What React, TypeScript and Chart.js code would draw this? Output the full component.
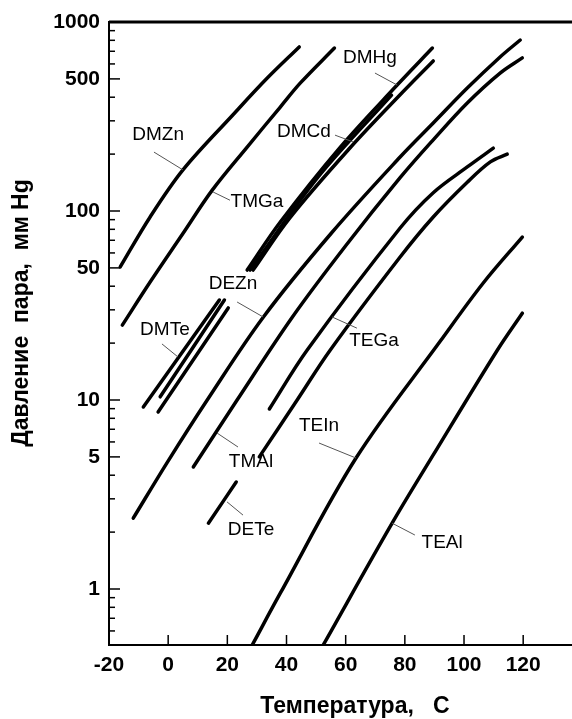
import React, { useEffect, useRef } from 'react';
import { Chart, registerables } from 'chart.js';

Chart.register(...registerables);

// Axis ticks
const xTicks = [-20, 0, 20, 40, 60, 80, 100, 120];
const yTicks = [1, 5, 10, 50, 100, 500, 1000];

// Temperature (C) / vapour pressure (mm Hg) for each compound
const dmznT = [-16.2, -6.1, 5.0, 22.0, 33.5, 44.3];
const dmznP = [50.6, 93, 165, 324, 505, 738];

const tmgaT = [-15.5, -6.1, 5.1, 14.9, 26.7, 37.9, 44.7, 56.2];
const tmgaP = [24.9, 42.1, 76.5, 129, 218, 355, 476, 728];

const dmhgT = [26.7, 37.9, 58.2, 77.4, 89.3];
const dmhgP = [48.7, 87.5, 218, 464, 728];

const dmhg2T = [28.7, 41.2, 61.5, 78.4, 89.6];
const dmhg2P = [48.7, 92.3, 216, 412, 622];

const dmcdT = [27.7, 50.5, 75.5];
const dmcdP = [48.7, 150, 410];

const dmte1T = [-8.4, 17.3];
const dmte1P = [9.18, 33.8];
const dmte2T = [-2.7, 19.0];
const dmte2P = [10.4, 33.8];
const dmte3T = [-3.4, 20.3];
const dmte3P = [8.64, 30.7];

const deznT = [-11.8, -0.3, 13.2, 32.2, 55.2, 78.4, 89.6, 101.1, 112.2, 119.0];
const deznP = [2.37, 4.68, 10.0, 27.5, 76.5, 193, 292, 447, 653, 803];

const tmalT = [8.5, 23.3, 42.0, 60.2, 78.4, 89.6, 101.1, 112.2, 119.7];
const tmalP = [4.42, 10.0, 27.5, 66.1, 150, 238, 373, 537, 646];

const deteT = [13.6, 23.0];
const deteP = [2.23, 3.68];

const tegaT = [34.2, 47.0, 78.4, 89.6, 101.1, 109.9];
const tegaP = [8.96, 18.4, 81.3, 125, 171, 215];

const teb2T = [30.8, 43.6, 54.8, 78.4, 89.6, 101.1, 108.9, 114.6];
const teb2P = [5.0, 10.0, 18.4, 57.1, 93, 142, 182, 200];

const teinT = [28.4, 37.9, 63.5, 92.0, 106.5, 119.7];
const teinP = [0.505, 0.95, 4.93, 20.5, 41.6, 72.8];

const tealT = [52.4, 75.7, 89.6, 111.3, 119.7];
const tealP = [0.505, 2.23, 5.12, 18.4, 28.8];

const series = [
  { name: 'DMZn', t: dmznT, p: dmznP },
  { name: 'TMGa', t: tmgaT, p: tmgaP },
  { name: 'DMHg', t: dmhgT, p: dmhgP },
  { name: 'DMHg-2', t: dmhg2T, p: dmhg2P },
  { name: 'DMCd', t: dmcdT, p: dmcdP },
  { name: 'DMTe-1', t: dmte1T, p: dmte1P },
  { name: 'DMTe-2', t: dmte2T, p: dmte2P },
  { name: 'DMTe-3', t: dmte3T, p: dmte3P },
  { name: 'DEZn', t: deznT, p: deznP },
  { name: 'TMAl', t: tmalT, p: tmalP },
  { name: 'DETe', t: deteT, p: deteP },
  { name: 'TEGa', t: tegaT, p: tegaP },
  { name: 'TE-2', t: teb2T, p: teb2P },
  { name: 'TEIn', t: teinT, p: teinP },
  { name: 'TEAl', t: tealT, p: tealP },
];

// Curve labels: text anchor and leader line (data coordinates)
const labelNames = ['DMZn', 'TMGa', 'DMHg', 'DMCd', 'DEZn', 'DMTe', 'TEGa', 'TMAl', 'DETe', 'TEIn', 'TEAl'];
const labelAt = [
  [-3.4, 252], [30.0, 112], [68.2, 645], [45.9, 262], [21.9, 41.1], [-1.1, 23.5],
  [69.6, 20.5], [28.0, 4.70], [28.0, 2.05], [51.0, 7.28], [92.6, 1.75],
];
const leaderFrom = [
  [-4.8, 205], [15.2, 126], [69.9, 537], [56.4, 252], [23.3, 33.0], [-2.1, 19.8],
  [55.4, 27.5], [16.5, 6.69], [19.9, 2.89], [51.0, 5.92], [75.7, 2.23],
];
const leaderTo = [
  [5.0, 165], [20.9, 114], [77.4, 464], [62.5, 232], [32.1, 27.5], [3.3, 16.9],
  [63.8, 24.0], [23.6, 5.64], [25.3, 2.46], [63.5, 4.93], [83.4, 1.93],
];

const FONT = '"Liberation Sans", Arial, sans-serif';

const decor = {
  id: 'decor',
  afterDraw(chart: any) {
    const { ctx, chartArea: a, scales } = chart;
    const xs = scales.x;
    const ys = scales.y;
    ctx.save();
    ctx.strokeStyle = '#000';
    // top frame line
    ctx.lineWidth = 3;
    ctx.beginPath();
    ctx.moveTo(a.left, a.top);
    ctx.lineTo(a.right, a.top);
    ctx.stroke();
    // y ticks (inward, log minor)
    ctx.lineWidth = 1.5;
    for (let d = -1; d <= 3; d++) {
      for (let m = 1; m <= 9; m++) {
        const v = m * Math.pow(10, d);
        if (v < ys.min || v > ys.max * 1.0001) continue;
        const py = ys.getPixelForValue(v);
        const major = yTicks.some((t) => Math.abs(t - v) < 1e-6 * t);
        const len = major ? 11 : 6;
        ctx.beginPath();
        ctx.moveTo(a.left, py);
        ctx.lineTo(a.left + len, py);
        ctx.stroke();
      }
    }
    // x ticks (inward)
    xTicks.forEach((t) => {
      if (t === xs.min) return;
      const px = xs.getPixelForValue(t);
      ctx.beginPath();
      ctx.moveTo(px, a.bottom);
      ctx.lineTo(px, a.bottom - 10);
      ctx.stroke();
    });
    // leaders
    ctx.strokeStyle = '#555';
    ctx.lineWidth = 1;
    labelNames.forEach((_, i) => {
      ctx.beginPath();
      ctx.moveTo(xs.getPixelForValue(leaderFrom[i][0]), ys.getPixelForValue(leaderFrom[i][1]));
      ctx.lineTo(xs.getPixelForValue(leaderTo[i][0]), ys.getPixelForValue(leaderTo[i][1]));
      ctx.stroke();
    });
    // labels
    ctx.fillStyle = '#000';
    ctx.font = `19px ${FONT}`;
    ctx.textAlign = 'center';
    ctx.textBaseline = 'middle';
    labelNames.forEach((name, i) => {
      ctx.fillText(name, xs.getPixelForValue(labelAt[i][0]), ys.getPixelForValue(labelAt[i][1]));
    });
    // axis titles
    ctx.font = `bold 23px ${FONT}`;
    ctx.fillText('Температура,   С', 355, 707);
    ctx.translate(22, 313);
    ctx.rotate(-Math.PI / 2);
    ctx.fillText('Давление  пара,  мм Hg', 0, 0);
    ctx.restore();
  },
};

export default function App() {
  const ref = useRef<HTMLCanvasElement | null>(null);
  useEffect(() => {
    if (!ref.current) return;
    const chart = new Chart(ref.current, {
      type: 'line',
      data: {
        datasets: series.map((s) => ({
          label: s.name,
          data: s.t.map((t, i) => ({ x: t, y: s.p[i] })),
          borderColor: '#000',
          backgroundColor: '#000',
          borderWidth: 3.5,
          pointRadius: 0,
          fill: false,
          tension: 0.35,
          borderCapStyle: 'round' as const,
          borderJoinStyle: 'round' as const,
        })),
      },
      options: {
        animation: false,
        responsive: false,
        devicePixelRatio: 1,
        layout: { padding: { top: 22, left: 0, right: 0, bottom: 0 } },
        plugins: { legend: { display: false }, tooltip: { enabled: false } },
        scales: {
          x: {
            type: 'linear',
            min: -20,
            max: 136.5,
            grid: { display: false, drawTicks: false, tickLength: 0 },
            border: { display: true, color: '#000', width: 2 },
            afterBuildTicks: (s: any) => {
              s.ticks = xTicks.map((v) => ({ value: v }));
            },
            afterFit: (s: any) => {
              s.height = 74;
            },
            ticks: {
              color: '#000',
              padding: 8,
              maxRotation: 0,
              autoSkip: false,
              font: { family: FONT, size: 21, weight: 'bold' },
              callback: (v: any) => String(v),
            },
          },
          y: {
            type: 'logarithmic',
            min: 0.5055,
            max: 1000,
            grid: { display: false, drawTicks: false, tickLength: 0 },
            border: { display: true, color: '#000', width: 2 },
            afterBuildTicks: (s: any) => {
              s.ticks = yTicks.map((v) => ({ value: v }));
            },
            afterFit: (s: any) => {
              s.width = 109;
            },
            ticks: {
              color: '#000',
              padding: 9,
              autoSkip: false,
              font: { family: FONT, size: 21, weight: 'bold' },
              callback: (v: any) => String(v),
            },
          },
        },
      },
      plugins: [decor],
    });
    return () => chart.destroy();
  }, []);
  return (
    <div style={{ position: 'absolute', left: 0, top: 0, width: 572, height: 719, background: '#fff' }}>
      <canvas ref={ref} width={572} height={719} style={{ display: 'block' }} />
    </div>
  );
}
